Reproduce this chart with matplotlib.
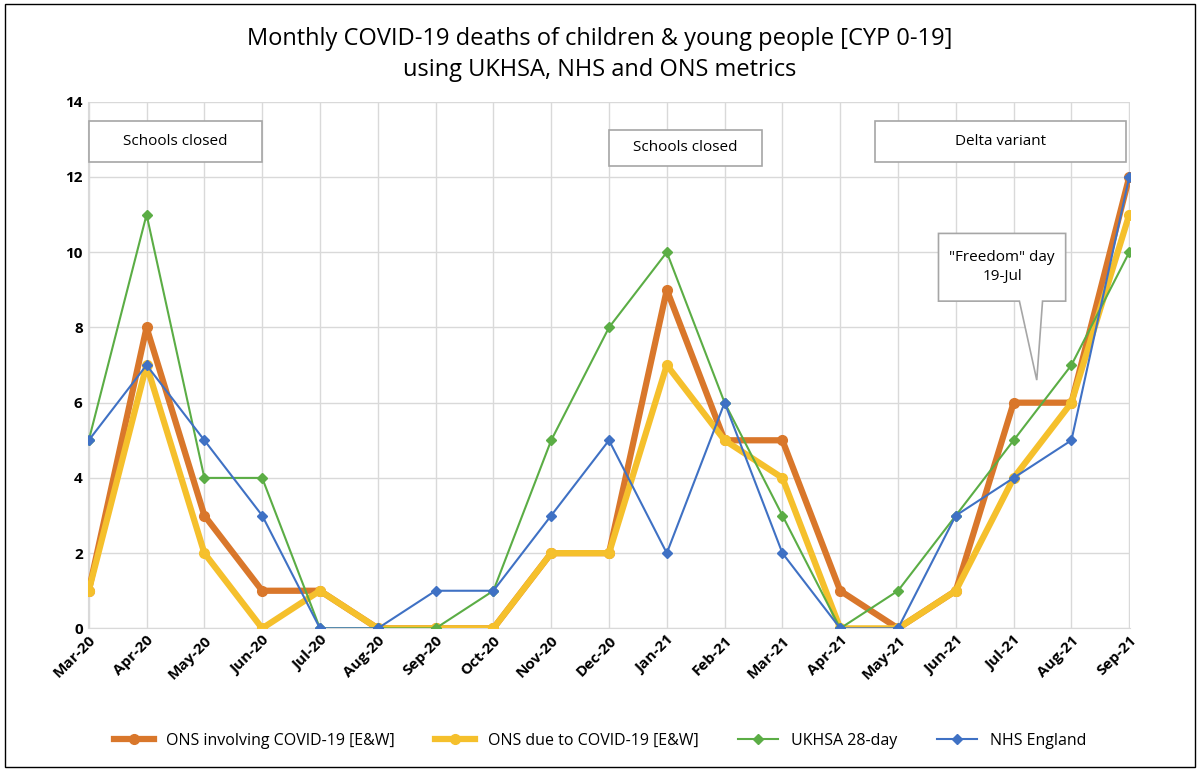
import matplotlib
matplotlib.use("Agg")
import matplotlib.pyplot as plt
from matplotlib.patches import Rectangle, Polygon

months = ["Mar-20","Apr-20","May-20","Jun-20","Jul-20","Aug-20","Sep-20","Oct-20","Nov-20","Dec-20",
          "Jan-21","Feb-21","Mar-21","Apr-21","May-21","Jun-21","Jul-21","Aug-21","Sep-21"]
ons_involving = [1,8,3,1,1,0,0,0,2,2,9,5,5,1,0,1,6,6,12]
ons_due = [1,7,2,0,1,0,0,0,2,2,7,5,4,0,0,1,4,6,11]
ukhsa = [5,11,4,4,0,0,0,1,5,8,10,6,3,0,1,3,5,7,10]
nhs = [5,7,5,3,0,0,1,1,3,5,2,6,2,0,0,3,4,5,12]

plt.rcParams['font.family'] = ['Open Sans', 'DejaVu Sans']
fig = plt.figure(figsize=(12, 7.71), dpi=100)
ax = fig.add_axes([0.073, 0.185, 0.869, 0.683])
x = list(range(len(months)))
ax.plot(x, ons_involving, color='#D9772B', lw=4.5, marker='o', ms=7, label='ONS involving COVID-19 [E&W]', zorder=3)
ax.plot(x, ons_due, color='#F5C02C', lw=4.5, marker='o', ms=7, label='ONS due to COVID-19 [E&W]', zorder=4)
ax.plot(x, ukhsa, color='#5BAD45', lw=1.5, marker='D', ms=5, label='UKHSA 28-day', zorder=5)
ax.plot(x, nhs, color='#3F71C4', lw=1.5, marker='D', ms=5, label='NHS England', zorder=6)

ax.set_ylim(0, 14)
ax.set_yticks(range(0, 15, 2))
ax.set_xlim(-0.02, len(months)-0.98)
ax.set_xticks(x)
ax.set_xticklabels(months, rotation=45, ha='right', rotation_mode='anchor', fontweight='bold', fontsize=11)
for t in ax.get_yticklabels():
    t.set_fontweight('bold'); t.set_fontsize(11)
ax.grid(axis='both', color='#D9D9D9', lw=1)
ax.set_axisbelow(True)
for s in ['top', 'right']:
    ax.spines[s].set_visible(False)
ax.spines['left'].set_color('#D9D9D9')
ax.spines['bottom'].set_color('#D9D9D9')
ax.tick_params(length=0)

def box(x0, x1, y0, y1, text):
    ax.add_patch(Rectangle((x0, y0), x1-x0, y1-y0, facecolor='white', edgecolor='#A6A6A6', lw=1.2, zorder=7, clip_on=False))
    ax.text((x0+x1)/2, (y0+y1)/2, text, ha='center', va='center', fontsize=11, zorder=8)

box(0.0, 3.0, 12.4, 13.5, "Schools closed")
box(9.0, 11.65, 12.3, 13.25, "Schools closed")
box(13.6, 17.95, 12.4, 13.5, "Delta variant")
poly = Polygon([(14.7, 10.5), (16.9, 10.5), (16.9, 8.7), (16.5, 8.7), (16.4, 6.6), (16.1, 8.7), (14.7, 8.7)],
               closed=True, facecolor='white', edgecolor='#A6A6A6', lw=1.2, zorder=7)
ax.add_patch(poly)
ax.text(15.8, 9.6, '"Freedom" day\n19-Jul', ha='center', va='center', fontsize=11, zorder=8, linespacing=1.4)

fig.legend(loc='lower center', ncol=4, frameon=False, fontsize=11.5, bbox_to_anchor=(0.5, 0.01),
           handlelength=2.5, columnspacing=2.5)
fig.text(0.5, 0.965, "Monthly COVID-19 deaths of children & young people [CYP 0-19]\nusing UKHSA, NHS and ONS metrics",
         ha='center', va='top', fontsize=17, linespacing=1.4)
fig.add_artist(Rectangle((0.004, 0.005), 0.992, 0.99, transform=fig.transFigure, fill=False, edgecolor='black', lw=1))
fig.savefig('out.png', dpi=100)
